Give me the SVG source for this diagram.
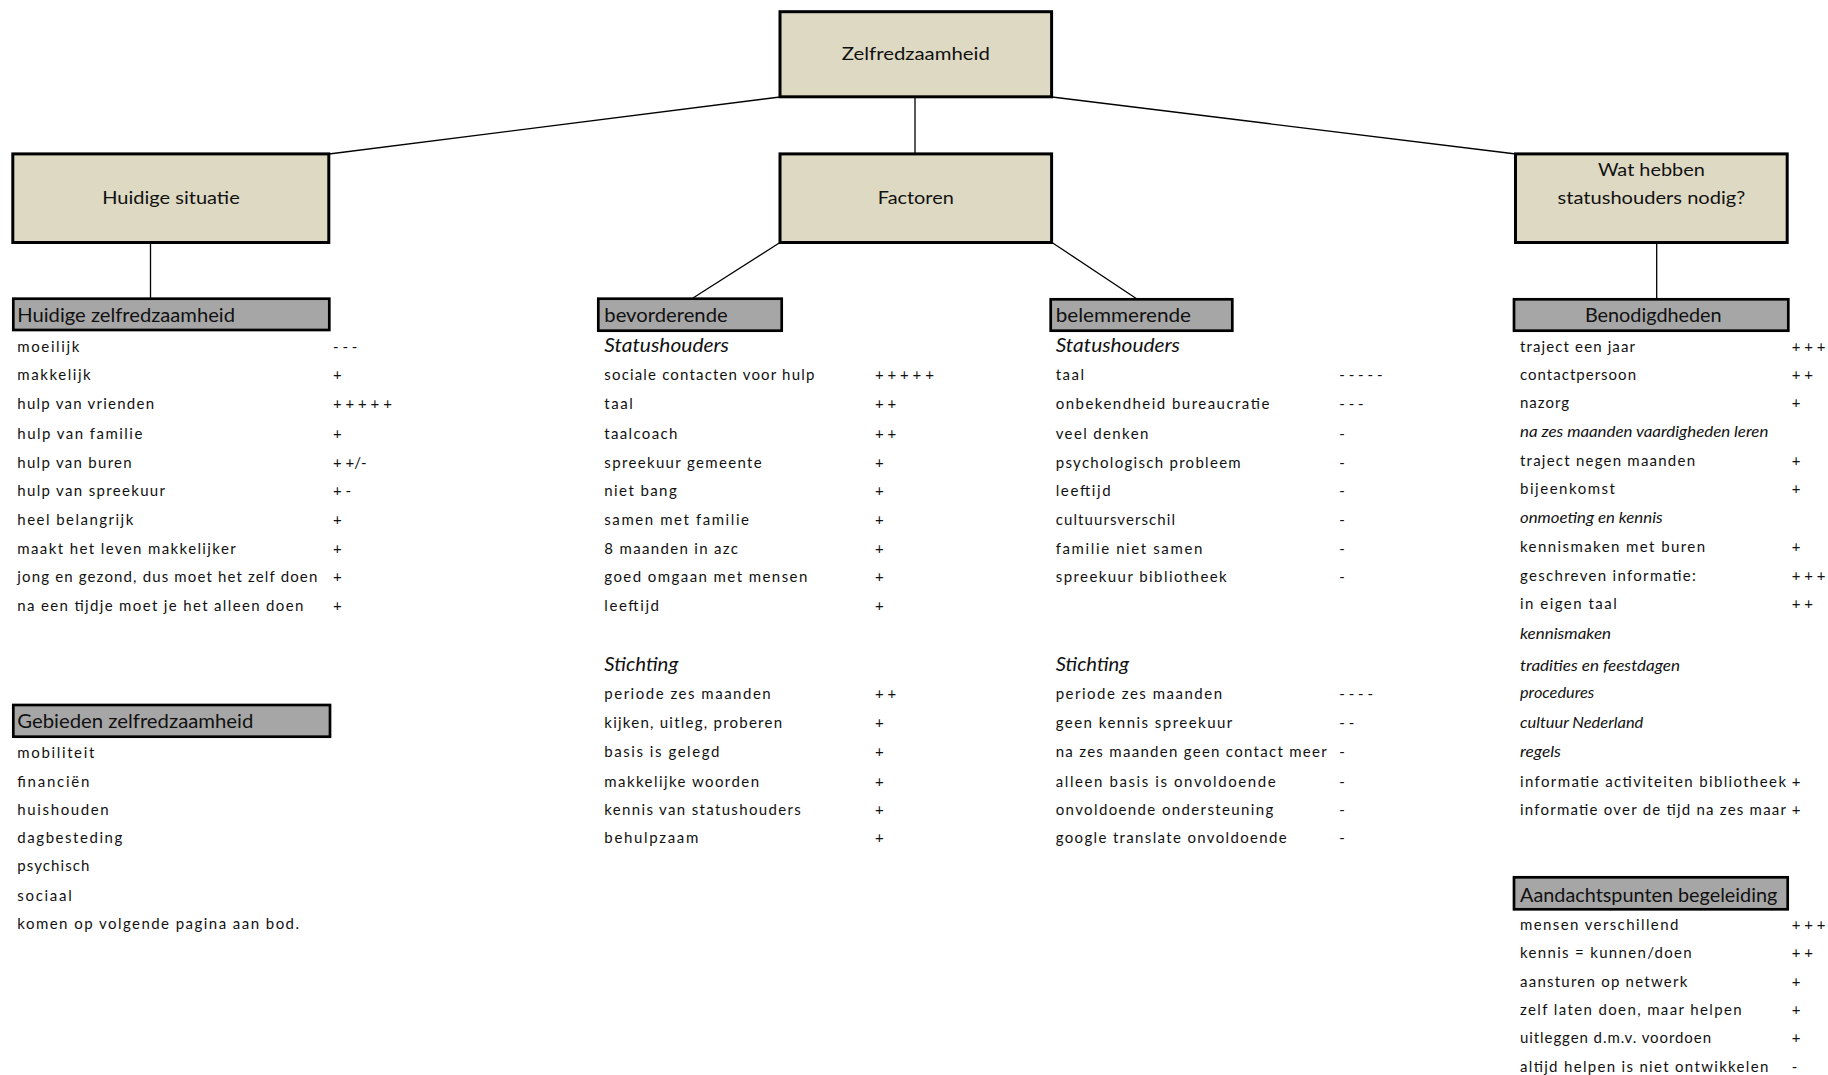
<svg xmlns="http://www.w3.org/2000/svg" width="1828" height="1075" viewBox="0 0 1828 1075">
<style>
.bg{fill:#ffffff}
.box{fill:#DDD9C3;stroke:#000;stroke-width:3}
.hdr{fill:#A6A6A6;stroke:#000;stroke-width:2.7}
text{font-family:Lato,"Liberation Sans",sans-serif;fill:#111;font-size:15px}
.top{font-size:18px;text-anchor:middle}
.h{font-size:19.5px}
.sub{font-style:italic;font-size:19.5px}
.i{font-style:italic}
.mid{text-anchor:middle}
.conn line{stroke:#000;stroke-width:1.3}
</style>
<rect class="bg" x="0" y="0" width="1828" height="1075"/>

<g id="connectors" class="conn">
<line x1="780" y1="97" x2="329" y2="154"/>
<line x1="915" y1="97" x2="915" y2="154"/>
<line x1="1052" y1="97" x2="1516" y2="154"/>
<line x1="150.5" y1="242.5" x2="150.5" y2="298.7"/>
<line x1="780" y1="242.5" x2="693" y2="298"/>
<line x1="1052" y1="242.5" x2="1143" y2="303"/>
<line x1="1656.7" y1="242.5" x2="1656.7" y2="299.3"/>
</g>

<g id="node-zelfredzaamheid">
<rect class="box" x="780" y="11.7" width="271.6" height="85.1"/>
<text class="top" x="915.8" y="60" textLength="148" lengthAdjust="spacingAndGlyphs">Zelfredzaamheid</text>
</g>

<g id="node-huidige-situatie">
<rect class="box" x="12.8" y="153.9" width="316" height="88.6"/>
<text class="top" x="171" y="204" textLength="137.6" lengthAdjust="spacingAndGlyphs">Huidige situatie</text>
</g>

<g id="node-factoren">
<rect class="box" x="780" y="153.9" width="271.6" height="88.6"/>
<text class="top" x="915.8" y="204" textLength="76" lengthAdjust="spacingAndGlyphs">Factoren</text>
</g>

<g id="node-wat-hebben">
<rect class="box" x="1515.5" y="153.9" width="271.7" height="88.6"/>
<text class="top" x="1651.4" y="176" textLength="107" lengthAdjust="spacingAndGlyphs">Wat hebben</text>
<text class="top" x="1651.4" y="204" textLength="187.7" lengthAdjust="spacingAndGlyphs">statushouders nodig?</text>
</g>

<g id="node-huidige-zelfredzaamheid">
<rect class="hdr" x="13.3" y="298.7" width="316" height="31.3"/>
<text class="h" x="17.3" y="322.3" textLength="217.7" lengthAdjust="spacingAndGlyphs">Huidige zelfredzaamheid</text>
<text x="17.3" y="352" textLength="62">moeilijk</text>
<text x="17.3" y="380" textLength="73.4">makkelijk</text>
<text x="17.3" y="409" textLength="136.7">hulp van vrienden</text>
<text x="17.3" y="439" textLength="125">hulp van familie</text>
<text x="17.3" y="468" textLength="114.4">hulp van buren</text>
<text x="17.3" y="496" textLength="147.7">hulp van spreekuur</text>
<text x="17.3" y="525" textLength="116">heel belangrijk</text>
<text x="17.3" y="554" textLength="218.4">maakt het leven makkelijker</text>
<text x="17.3" y="582" textLength="300">jong en gezond, dus moet het zelf doen</text>
<text x="17.3" y="611" textLength="286">na een tijdje moet je het alleen doen</text>
<text x="333" y="352">- - -</text>
<text x="333" y="380">+</text>
<text x="333" y="409">+ + + + +</text>
<text x="333" y="439">+</text>
<text x="333" y="468">+ +/-</text>
<text x="333" y="496">+ -</text>
<text x="333" y="525">+</text>
<text x="333" y="554">+</text>
<text x="333" y="582">+</text>
<text x="333" y="611">+</text>
</g>

<g id="node-gebieden">
<rect class="hdr" x="13.3" y="705" width="316.7" height="31.7"/>
<text class="h" x="17.3" y="728.3" textLength="236" lengthAdjust="spacingAndGlyphs">Gebieden zelfredzaamheid</text>
<text x="17.3" y="758.3" textLength="77">mobiliteit</text>
<text x="17.3" y="786.7" textLength="72">financiën</text>
<text x="17.3" y="815" textLength="91.4">huishouden</text>
<text x="17.3" y="843.3" textLength="105">dagbesteding</text>
<text x="17.3" y="871" textLength="72">psychisch</text>
<text x="17.3" y="900.5" textLength="54.4">sociaal</text>
<text x="17.3" y="929.3" textLength="281.7">komen op volgende pagina aan bod.</text>
</g>

<g id="node-bevorderende">
<rect class="hdr" x="598.3" y="298.7" width="183.4" height="32"/>
<text class="h" x="604.3" y="322.3" textLength="123.4" lengthAdjust="spacingAndGlyphs">bevorderende</text>
<text class="sub" x="604.3" y="351.7" textLength="124.7" lengthAdjust="spacingAndGlyphs">Statushouders</text>
<text x="604.3" y="380" textLength="210">sociale contacten voor hulp</text>
<text x="604.3" y="409.3" textLength="28.4">taal</text>
<text x="604.3" y="439.3" textLength="73">taalcoach</text>
<text x="604.3" y="467.7" textLength="157.4">spreekuur gemeente</text>
<text x="604.3" y="495.7" textLength="72.4">niet bang</text>
<text x="604.3" y="525" textLength="144.7">samen met familie</text>
<text x="604.3" y="554" textLength="133.7">8 maanden in azc</text>
<text x="604.3" y="582.3" textLength="203">goed omgaan met mensen</text>
<text x="604.3" y="611" textLength="54.7">leeftijd</text>
<text x="875" y="380">+ + + + +</text>
<text x="875" y="409.3">+ +</text>
<text x="875" y="439.3">+ +</text>
<text x="875" y="467.7">+</text>
<text x="875" y="495.7">+</text>
<text x="875" y="525">+</text>
<text x="875" y="554">+</text>
<text x="875" y="582.3">+</text>
<text x="875" y="611">+</text>
<text class="sub" x="604.3" y="670.7" textLength="74" lengthAdjust="spacingAndGlyphs">Stichting</text>
<text x="604.3" y="699.3" textLength="166.4">periode zes maanden</text>
<text x="604.3" y="728.3" textLength="177.7">kijken, uitleg, proberen</text>
<text x="604.3" y="757.3" textLength="115">basis is gelegd</text>
<text x="604.3" y="786.7" textLength="154.7">makkelijke woorden</text>
<text x="604.3" y="815" textLength="196.4">kennis van statushouders</text>
<text x="604.3" y="842.7" textLength="94">behulpzaam</text>
<text x="875" y="699.3">+ +</text>
<text x="875" y="728.3">+</text>
<text x="875" y="757.3">+</text>
<text x="875" y="786.7">+</text>
<text x="875" y="815">+</text>
<text x="875" y="842.7">+</text>
</g>

<g id="node-belemmerende">
<rect class="hdr" x="1050.7" y="299.3" width="181.6" height="31.4"/>
<text class="h" x="1055.7" y="322.3" textLength="135.3" lengthAdjust="spacingAndGlyphs">belemmerende</text>
<text class="sub" x="1055.7" y="351.7" textLength="124.3" lengthAdjust="spacingAndGlyphs">Statushouders</text>
<text x="1055.7" y="380" textLength="28.3">taal</text>
<text x="1055.7" y="409.3" textLength="213.6">onbekendheid bureaucratie</text>
<text x="1055.7" y="439.3" textLength="92.6">veel denken</text>
<text x="1055.7" y="467.7" textLength="185">psychologisch probleem</text>
<text x="1055.7" y="495.7" textLength="55">leeftijd</text>
<text x="1055.7" y="525" textLength="119.3">cultuursverschil</text>
<text x="1055.7" y="554" textLength="146.6">familie niet samen</text>
<text x="1055.7" y="582.3" textLength="171">spreekuur bibliotheek</text>
<text x="1339.3" y="380">- - - - -</text>
<text x="1339.3" y="409.3">- - -</text>
<text x="1339.3" y="439.3">-</text>
<text x="1339.3" y="467.7">-</text>
<text x="1339.3" y="495.7">-</text>
<text x="1339.3" y="525">-</text>
<text x="1339.3" y="554">-</text>
<text x="1339.3" y="582.3">-</text>
<text class="sub" x="1055.7" y="670.7" textLength="73.3" lengthAdjust="spacingAndGlyphs">Stichting</text>
<text x="1055.7" y="699.3" textLength="166.3">periode zes maanden</text>
<text x="1055.7" y="728.3" textLength="176.6">geen kennis spreekuur</text>
<text x="1055.7" y="757.3" textLength="271">na zes maanden geen contact meer</text>
<text x="1055.7" y="786.7" textLength="220">alleen basis is onvoldoende</text>
<text x="1055.7" y="815" textLength="217.6">onvoldoende ondersteuning</text>
<text x="1055.7" y="842.7" textLength="231">google translate onvoldoende</text>
<text x="1339.3" y="699.3">- - - -</text>
<text x="1339.3" y="728.3">- -</text>
<text x="1339.3" y="757.3">-</text>
<text x="1339.3" y="786.7">-</text>
<text x="1339.3" y="815">-</text>
<text x="1339.3" y="842.7">-</text>
</g>

<g id="node-benodigdheden">
<rect class="hdr" x="1514" y="299.3" width="274.3" height="31.4"/>
<text class="h mid" x="1653.3" y="322.3" textLength="136.7" lengthAdjust="spacingAndGlyphs">Benodigdheden</text>
<text x="1520" y="351.7" textLength="115">traject een jaar</text>
<text x="1520" y="380" textLength="116">contactpersoon</text>
<text x="1520" y="408.3" textLength="49">nazorg</text>
<text class="i" x="1520" y="436.7" textLength="248.3" lengthAdjust="spacingAndGlyphs">na zes maanden vaardigheden leren</text>
<text x="1520" y="465.7" textLength="175">traject negen maanden</text>
<text x="1520" y="494" textLength="95">bijeenkomst</text>
<text class="i" x="1520" y="523.3" textLength="142.7" lengthAdjust="spacingAndGlyphs">onmoeting en kennis</text>
<text x="1520" y="551.7" textLength="185">kennismaken met buren</text>
<text x="1520" y="580.7" textLength="175.7">geschreven informatie:</text>
<text x="1520" y="609" textLength="96.7">in eigen taal</text>
<text class="i" x="1520" y="639" textLength="91" lengthAdjust="spacingAndGlyphs">kennismaken</text>
<text class="i" x="1520" y="670.7" textLength="160" lengthAdjust="spacingAndGlyphs">tradities en feestdagen</text>
<text class="i" x="1520" y="698.3" textLength="74.3" lengthAdjust="spacingAndGlyphs">procedures</text>
<text class="i" x="1520" y="728.3" textLength="123.3" lengthAdjust="spacingAndGlyphs">cultuur Nederland</text>
<text class="i" x="1520" y="757.3" textLength="41" lengthAdjust="spacingAndGlyphs">regels</text>
<text x="1520" y="786.7" textLength="266">informatie activiteiten bibliotheek</text>
<text x="1520" y="815" textLength="266">informatie over de tijd na zes maar</text>
<text x="1791.7" y="351.7">+ + +</text>
<text x="1791.7" y="380">+ +</text>
<text x="1791.7" y="408.3">+</text>
<text x="1791.7" y="465.7">+</text>
<text x="1791.7" y="494">+</text>
<text x="1791.7" y="551.7">+</text>
<text x="1791.7" y="580.7">+ + +</text>
<text x="1791.7" y="609">+ +</text>
<text x="1791.7" y="786.7">+</text>
<text x="1791.7" y="815">+</text>
</g>

<g id="node-aandachtspunten">
<rect class="hdr" x="1514" y="877.3" width="273.7" height="32"/>
<text class="h" x="1520" y="901.7" textLength="257.3" lengthAdjust="spacingAndGlyphs">Aandachtspunten begeleiding</text>
<text x="1520" y="930" textLength="158.3">mensen verschillend</text>
<text x="1520" y="958.3" textLength="171.7">kennis = kunnen/doen</text>
<text x="1520" y="986.7" textLength="167.3">aansturen op netwerk</text>
<text x="1520" y="1015" textLength="221.7">zelf laten doen, maar helpen</text>
<text x="1520" y="1042.7" textLength="191">uitleggen d.m.v. voordoen</text>
<text x="1520" y="1071.7" textLength="248.3">altijd helpen is niet ontwikkelen</text>
<text x="1791.7" y="930">+ + +</text>
<text x="1791.7" y="958.3">+ +</text>
<text x="1791.7" y="986.7">+</text>
<text x="1791.7" y="1015">+</text>
<text x="1791.7" y="1042.7">+</text>
<text x="1791.7" y="1071.7">-</text>
</g>
</svg>
